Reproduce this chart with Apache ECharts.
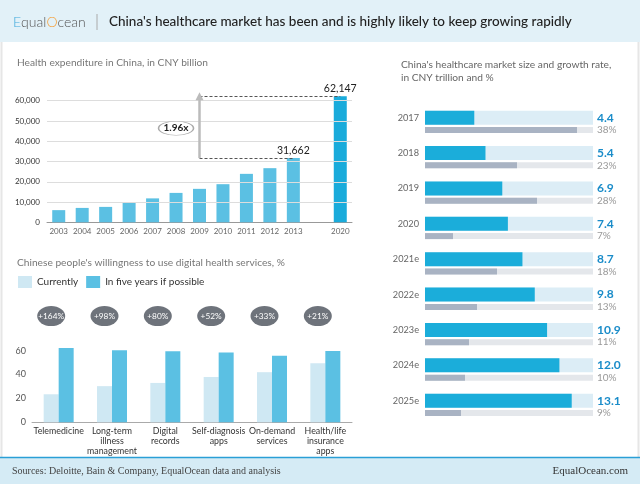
<!DOCTYPE html>
<html><head><meta charset="utf-8">
<script src="https://cdn.jsdelivr.net/npm/echarts@6/dist/echarts.min.js"></script>
<style>html,body{margin:0;padding:0;background:#fff}#c{width:640px;height:484px}</style>
</head><body><div id="c"></div>
<script>
// ---- data ----
const expYears = ['2003','2004','2005','2006','2007','2008','2009','2010','2011','2012','2013','','2020'];
const expValues = [6000, 7100, 7600, 9800, 11800, 14500, 16500, 18800, 23900, 26700, 31662, null, 62147];
const expTicks = [10000, 20000, 30000, 40000, 50000, 60000];
const services = ['Telemedicine','Long-term\nillness\nmanagement','Digital\nrecords','Self-diagnosis\napps','On-demand\nservices','Health/life\ninsurance\napps'];
const currently = [23.5, 30.3, 33, 38, 42, 49.5];
const fiveYears = [62.3, 60.3, 59.6, 58.5, 55.8, 59.8];
const growthTags = ['+164%','+98%','+80%','+52%','+33%','+21%'];
const marketYears = ['2017','2018','2019','2020','2021e','2022e','2023e','2024e','2025e'];
const marketSize = [4.4, 5.4, 6.9, 7.4, 8.7, 9.8, 10.9, 12.0, 13.1];
const marketGrowth = [38, 23, 28, 7, 18, 13, 11, 10, 9];

const F = 'Lato, "Noto Sans", sans-serif';
const chart = echarts.init(document.getElementById('c'), null, {renderer:'canvas'});
const fmt = v => Number(v).toLocaleString('en-US');
const ratio = (expValues[12] / expValues[10]).toFixed(2) + 'x';
const dashStyle = {type: [3, 2], color: '#555', width: 1};
const arrowStyle = {type: 'solid', color: '#bbb', width: 2.5};

const option = {
  backgroundColor: '#fff',
  animation: false,
  textStyle: {fontFamily: F},
  title: [
    {text: 'Health expenditure in China, in CNY billion', left: 17, top: 58, padding: 0,
     textStyle: {fontFamily: F, fontSize: 10.2, fontWeight: 'normal', color: '#777'}},
    {text: "Chinese people's willingness to use digital health services, %", left: 17, top: 258, padding: 0,
     textStyle: {fontFamily: F, fontSize: 10.2, fontWeight: 'normal', color: '#777'}},
    {text: "China's healthcare market size and growth rate,\nin CNY trillion and %", left: 401, top: 58, padding: 0,
     textStyle: {fontFamily: F, fontSize: 10.2, fontWeight: 'normal', color: '#666', lineHeight: 13}}
  ],
  legend: {
    data: ['Currently', 'In five years if possible'],
    left: 13, top: 271, icon: 'rect', itemWidth: 14, itemHeight: 12, itemGap: 8,
    textStyle: {fontFamily: F, fontSize: 10, color: '#333'}
  },
  grid: [
    {left: 47, top: 88.5, width: 305, height: 133.8},
    {left: 32, top: 303, width: 320, height: 119.3},
    {left: 425, top: 100, width: 168, height: 318.4},
    {left: 425, top: 112.3, width: 168, height: 318.4}
  ],
  xAxis: [
    {type: 'category', gridIndex: 0, data: expYears,
     axisLine: {lineStyle: {color: '#999'}}, axisTick: {show: false},
     axisLabel: {color: '#666', fontSize: 8, margin: 5, interval: 0}},
    {type: 'category', gridIndex: 1, data: services,
     axisLine: {lineStyle: {color: '#aaa'}}, axisTick: {show: false},
     axisLabel: {color: '#333', fontSize: 8.8, lineHeight: 10, margin: 4, interval: 0}},
    {type: 'value', gridIndex: 2, min: 0, max: 15, show: false},
    {type: 'value', gridIndex: 3, min: 0, max: 42, show: false}
  ],
  yAxis: [
    {type: 'value', gridIndex: 0, min: 0, max: 66000, interval: 10000,
     axisLine: {show: false}, axisTick: {show: false}, splitLine: {show: false},
     axisLabel: {color: '#333', fontSize: 8, margin: 7, formatter: v => v <= 60000 ? fmt(v) : ''}},
    {type: 'value', gridIndex: 1, min: 0, max: 100, interval: 20,
     axisLine: {show: false}, axisTick: {show: false}, splitLine: {show: false},
     axisLabel: {color: '#555', fontSize: 9, margin: 6, formatter: v => v <= 60 ? v : ''}},
    {type: 'category', gridIndex: 2, data: marketYears, inverse: true,
     axisLine: {show: false}, axisTick: {show: false},
     axisLabel: {color: '#666', fontSize: 9.2, margin: 6}},
    {type: 'category', gridIndex: 2, position: 'right', data: marketSize.map(v => v.toFixed(1)), inverse: true,
     axisLine: {show: false}, axisTick: {show: false},
     axisLabel: {color: '#1a8cc9', fontSize: 12, fontWeight: 'bold', margin: 4, align: 'left'}},
    {type: 'category', gridIndex: 3, data: marketYears, inverse: true, show: false},
    {type: 'category', gridIndex: 3, position: 'right', data: marketGrowth.map(v => v + '%'), inverse: true,
     axisLine: {show: false}, axisTick: {show: false},
     axisLabel: {color: '#999', fontSize: 10, margin: 4, align: 'left'}}
  ],
  series: [
    {name: 'gridlines', type: 'line', xAxisIndex: 0, yAxisIndex: 0, z: 0, data: [],
     markLine: {silent: true, symbol: 'none', label: {show: false},
       lineStyle: {type: 'solid', color: '#ddd', width: 1},
       data: expTicks.map(v => ({yAxis: v}))}},
    {name: 'Health expenditure', type: 'bar', xAxisIndex: 0, yAxisIndex: 0, barWidth: 13, z: 3,
     itemStyle: {color: '#5bc0e3'},
     label: {show: false, position: 'top', distance: 2, color: '#222', fontSize: 10.5, fontFamily: F, formatter: p => fmt(p.value)},
     data: expValues.map((v, i) => ({
       value: v,
       itemStyle: expYears[i] === '2020' ? {color: '#1aabdb'} : undefined,
       label: (expYears[i] === '2013' || expYears[i] === '2020') ? {show: true} : undefined
     }))},
    {name: 'annotation', type: 'line', xAxisIndex: 0, yAxisIndex: 0, z: 1, data: [],
     markLine: {silent: true, symbol: 'none', label: {show: false},
       lineStyle: dashStyle,
       data: [
         [{coord: ['2009', expValues[10]], lineStyle: dashStyle}, {coord: ['2013', expValues[10]]}],
         [{coord: ['2009', expValues[12]], lineStyle: dashStyle}, {coord: ['2020', expValues[12]]}],
         [{coord: ['2009', expValues[10]], lineStyle: arrowStyle, symbol: 'none'},
          {coord: ['2009', expValues[12]], symbol: 'triangle', symbolSize: 8}]
       ]},
     markPoint: {silent: true, symbol: 'circle', symbolSize: [35, 14],
       itemStyle: {color: '#fff', borderColor: '#aaa', borderWidth: 1},
       label: {show: true, formatter: ratio, color: '#222', fontWeight: 'bold', fontSize: 10, fontFamily: F},
       data: [{coord: ['2008', 46400]}]}},
    {name: 'Currently', type: 'bar', xAxisIndex: 1, yAxisIndex: 1, barWidth: 15, barGap: '0%',
     itemStyle: {color: '#cfe8f3'}, data: currently,
     markPoint: {silent: true, symbol: 'circle', symbolSize: [28, 20],
       itemStyle: {color: '#6e737b'},
       label: {show: true, color: '#fff', fontSize: 8.3, fontFamily: F, formatter: p => p.name},
       data: growthTags.map((t, i) => ({name: t, coord: [i, 89]}))}},
    {name: 'In five years if possible', type: 'bar', xAxisIndex: 1, yAxisIndex: 1, barWidth: 15, barGap: '0%',
     itemStyle: {color: '#5bc0e3'}, data: fiveYears},
    {name: 'Market size', type: 'bar', xAxisIndex: 2, yAxisIndex: 2, barWidth: 14,
     itemStyle: {color: '#1badda'}, showBackground: true, backgroundStyle: {color: '#dcedf6'},
     data: marketSize},
    {name: 'Growth rate', type: 'bar', xAxisIndex: 3, yAxisIndex: 4, barWidth: 6,
     itemStyle: {color: '#a9b3c3'}, showBackground: true, backgroundStyle: {color: '#e4e7eb'},
     data: marketGrowth}
  ],
  graphic: [
    {type: 'rect', shape: {x: 0, y: 0, width: 640, height: 42}, style: {fill: '#e2f1f8'}, z: -1},
    {type: 'text', x: 13, y: 22, style: {
      text: '{e|E}{q|qual}{o|O}{q|cean}', textVerticalAlign: 'middle',
      rich: {
        e: {fontFamily: F, fontSize: 14, fontWeight: 300, fill: '#3fa9dc', color: '#3fa9dc'},
        q: {fontFamily: F, fontSize: 14, fontWeight: 300, fill: '#555', color: '#555'},
        o: {fontFamily: F, fontSize: 14, fontWeight: 300, fill: '#f5a03a', color: '#f5a03a'}
      }}},
    {type: 'line', shape: {x1: 97, y1: 14, x2: 97, y2: 30}, style: {stroke: '#aaa', lineWidth: 1}},
    {type: 'text', x: 109, y: 22, style: {
      text: "China's healthcare market has been and is highly likely to keep growing rapidly",
      fontFamily: F, fontSize: 13.5, fontWeight: 500, fill: '#222', textVerticalAlign: 'middle'}},
    {type: 'line', shape: {x1: 1.5, y1: 42, x2: 1.5, y2: 457}, style: {stroke: '#e6e6e6', lineWidth: 2}},
    {type: 'line', shape: {x1: 638.5, y1: 42, x2: 638.5, y2: 457}, style: {stroke: '#e6e6e6', lineWidth: 2}},
    {type: 'rect', shape: {x: 0, y: 458, width: 640, height: 26}, style: {fill: '#d5ebf5'}},
    {type: 'line', shape: {x1: 0, y1: 457.5, x2: 640, y2: 457.5}, style: {stroke: '#2a9fd6', lineWidth: 1.5}},
    {type: 'text', x: 12, y: 471, style: {
      text: 'Sources: Deloitte, Bain & Company, EqualOcean data and analysis',
      fontFamily: '"Liberation Serif", "DejaVu Serif", serif', fontSize: 10, fill: '#444', textVerticalAlign: 'middle'}},
    {type: 'text', x: 628, y: 471, style: {
      text: 'EqualOcean.com', textAlign: 'right',
      fontFamily: '"Liberation Serif", "DejaVu Serif", serif', fontSize: 11, fill: '#333', textVerticalAlign: 'middle'}}
  ]
};
chart.setOption(option);
</script></body></html>
